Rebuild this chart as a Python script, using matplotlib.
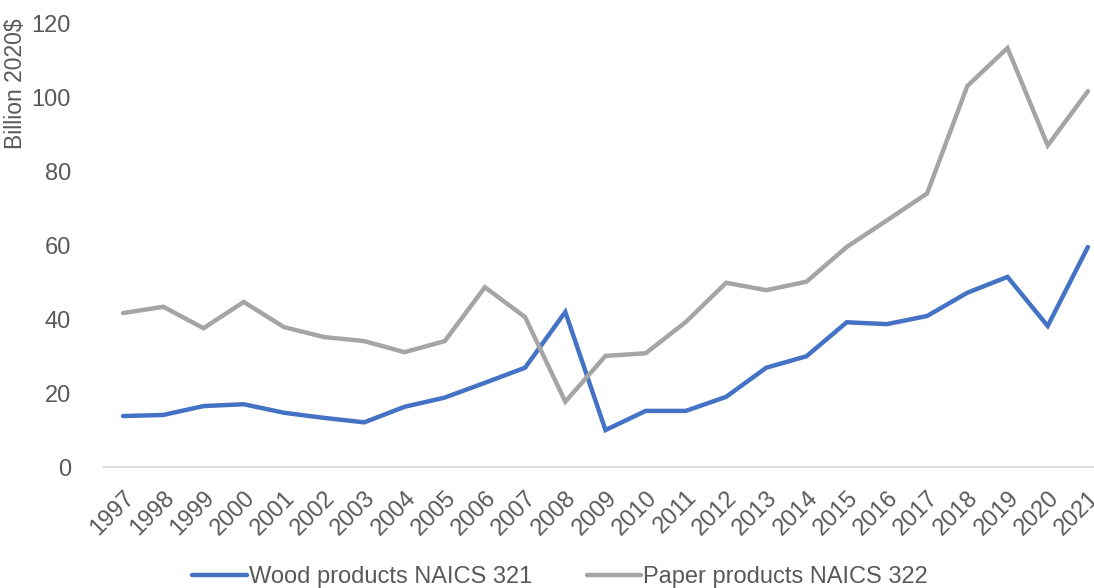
import matplotlib
matplotlib.use("Agg")
import matplotlib.pyplot as plt

plt.rcParams['font.family'] = ['Liberation Sans', 'DejaVu Sans']

years = list(range(1997, 2022))
wood = [13.8, 14.1, 16.5, 17.0, 14.7, 13.3, 12.1, 16.3, 18.8, 22.8, 26.9, 42.0,
        10.0, 15.2, 15.2, 19.0, 26.9, 30.0, 39.2, 38.7, 40.9, 47.2, 51.5, 38.2, 59.6]
paper = [41.7, 43.4, 37.6, 44.7, 37.9, 35.2, 34.1, 31.1, 34.1, 48.7, 40.6, 17.7,
         30.1, 30.8, 39.3, 49.9, 47.9, 50.2, 59.6, 66.8, 74.1, 103.2, 113.5, 87.1, 101.8]
labels = ['Wood products NAICS 321', 'Paper products NAICS 322']

TXT = '#595959'

fig = plt.figure(figsize=(10.94, 5.88), dpi=100)
ax = fig.add_axes([103/1094, 1-467/588, 1005/1094, 443/588])

ax.plot(years, wood, color='#4472C4', lw=3.2, solid_capstyle='round', solid_joinstyle='miter', label=labels[0])
ax.plot(years, paper, color='#A5A5A5', lw=3.2, solid_capstyle='round', solid_joinstyle='miter', label=labels[1])

ax.set_xlim(1996.5, 2021.5)
ax.set_ylim(0, 120)
ax.set_yticks(range(0, 121, 20))
ax.set_xticks(years)
ax.set_xticklabels([str(y) for y in years], rotation=45, ha='right', rotation_mode='anchor')

for s in ['top', 'right', 'left']:
    ax.spines[s].set_visible(False)
ax.spines['bottom'].set_color('#D9D9D9')
ax.spines['bottom'].set_linewidth(1.2)
ax.tick_params(axis='both', length=0, labelsize=17, labelcolor=TXT)
ax.tick_params(axis='y', pad=23)
ax.tick_params(axis='x', pad=14)

ax.set_ylabel('Billion 2020$', fontsize=16.5, color=TXT)
ax.yaxis.set_label_coords(-0.0755, 0.865)

fig.legend(loc='center', bbox_to_anchor=(0.512, 1-577/588), ncol=2, frameon=False,
           fontsize=17, labelcolor=TXT, handlelength=2.3, handletextpad=0.1,
           columnspacing=2.3)

fig.savefig('out.png', dpi=100)
